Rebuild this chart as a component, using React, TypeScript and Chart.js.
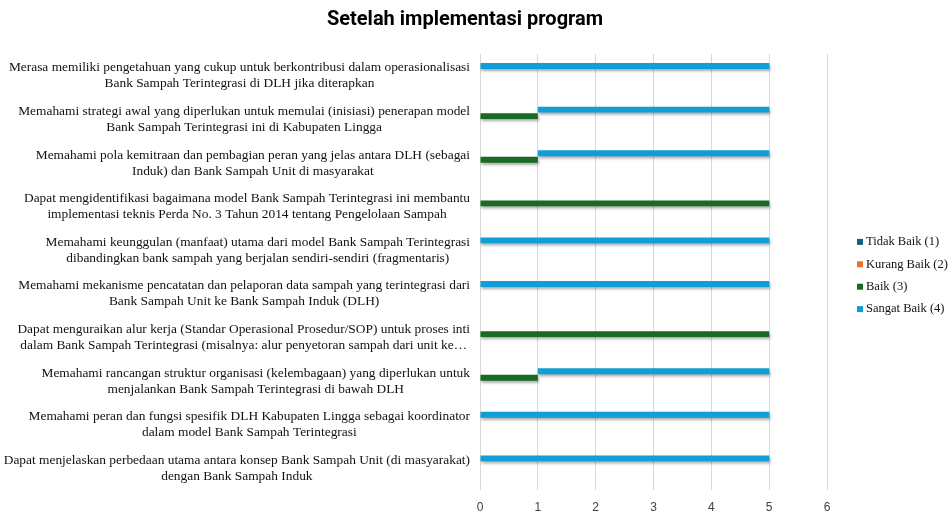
import React, { useEffect, useRef } from "react";
import { Chart, registerables } from "chart.js";

Chart.register(...registerables);

const TITLE = "Setelah implementasi program";

const CATEGORY_LINES: string[][] = [
  ["Merasa memiliki pengetahuan yang cukup untuk berkontribusi dalam operasionalisasi", "Bank Sampah Terintegrasi di DLH jika diterapkan"],
  ["Memahami strategi awal yang diperlukan untuk memulai (inisiasi) penerapan model", "Bank Sampah Terintegrasi ini di Kabupaten Lingga"],
  ["Memahami pola kemitraan dan pembagian peran yang jelas antara DLH (sebagai", "Induk) dan Bank Sampah Unit di masyarakat"],
  ["Dapat mengidentifikasi bagaimana model Bank Sampah Terintegrasi ini membantu", "implementasi teknis Perda No. 3 Tahun 2014 tentang Pengelolaan Sampah"],
  ["Memahami keunggulan (manfaat) utama dari model Bank Sampah Terintegrasi", "dibandingkan bank sampah yang berjalan sendiri-sendiri (fragmentaris)"],
  ["Memahami mekanisme pencatatan dan pelaporan data sampah yang terintegrasi dari", "Bank Sampah Unit ke Bank Sampah Induk (DLH)"],
  ["Dapat menguraikan alur kerja (Standar Operasional Prosedur/SOP) untuk proses inti", "dalam Bank Sampah Terintegrasi (misalnya: alur penyetoran sampah dari unit ke…"],
  ["Memahami rancangan struktur organisasi (kelembagaan) yang diperlukan untuk", "menjalankan Bank Sampah Terintegrasi di bawah DLH"],
  ["Memahami peran dan fungsi spesifik DLH Kabupaten Lingga sebagai koordinator", "dalam model Bank Sampah Terintegrasi"],
  ["Dapat menjelaskan perbedaan utama antara konsep Bank Sampah Unit (di masyarakat)", "dengan Bank Sampah Induk"],
];

const SERIES_NAMES = ["Tidak Baik (1)", "Kurang Baik (2)", "Baik (3)", "Sangat Baik (4)"];
const TIDAK_BAIK = [0, 0, 0, 0, 0, 0, 0, 0, 0, 0];
const KURANG_BAIK = [0, 0, 0, 0, 0, 0, 0, 0, 0, 0];
const BAIK = [0, 1, 1, 5, 0, 0, 5, 1, 0, 0];
const SANGAT_BAIK = [5, 4, 4, 0, 5, 5, 0, 4, 5, 5];
const X_MIN = 0;
const X_MAX = 6;
const X_STEP = 1;

const COLORS = ["#156082", "#E97132", "#196B24", "#0F9ED5"];

const LABEL_FONT = '13.4px "Liberation Serif"';
const LEGEND_FONT = '12.5px "Liberation Serif"';

export default function App() {
  const ref = useRef<HTMLCanvasElement | null>(null);

  useEffect(() => {
    const canvas = ref.current;
    if (!canvas) return;

    const series = [TIDAK_BAIK, KURANG_BAIK, BAIK, SANGAT_BAIK];
    // floating segments (stacked left to right in series order)
    const segments = series.map((vals, s) =>
      vals.map((v, i) => {
        let start = 0;
        for (let k = 0; k < s; k++) start += series[k][i];
        return [start, start + v] as [number, number];
      })
    );
    // slot order top to bottom: Sangat Baik, Baik, Kurang Baik, Tidak Baik
    const drawOrder = [3, 2, 1, 0];
    const datasets = drawOrder.map((s) => ({
      label: SERIES_NAMES[s],
      data: segments[s],
      backgroundColor: COLORS[s],
      borderWidth: 0,
      categoryPercentage: 0.6,
      barPercentage: 0.9,
    }));

    const shadowPlugin = {
      id: "barShadow",
      beforeDatasetsDraw(chart: any) {
        const ctx = chart.ctx;
        ctx.save();
        ctx.shadowColor = "rgba(0,0,0,0.35)";
        ctx.shadowBlur = 3;
        ctx.shadowOffsetX = 1;
        ctx.shadowOffsetY = 2;
      },
      afterDatasetsDraw(chart: any) {
        chart.ctx.restore();
      },
    };

    const textPlugin = {
      id: "texts",
      afterDraw(chart: any) {
        const ctx = chart.ctx;
        const yScale = chart.scales.y;
        const area = chart.chartArea;
        ctx.save();
        // category labels
        ctx.font = LABEL_FONT;
        ctx.fillStyle = "#111111";
        ctx.textAlign = "center";
        ctx.textBaseline = "middle";
        const lineH = 16;
        CATEGORY_LINES.forEach((lines, i) => {
          const cy = yScale.getPixelForValue(i);
          let maxW = 0;
          lines.forEach((l) => (maxW = Math.max(maxW, ctx.measureText(l).width)));
          const cx = area.left - 10 - maxW / 2;
          const y0 = cy - ((lines.length - 1) * lineH) / 2;
          lines.forEach((l, j) => ctx.fillText(l, cx, y0 + j * lineH));
        });
        // title
        ctx.font = 'bold 20px "Roboto"';
        ctx.fillStyle = "#000000";
        ctx.fillText(TITLE, 465, 20);
        // legend
        ctx.font = LEGEND_FONT;
        ctx.textAlign = "left";
        const spacing = 22.4;
        const midY = (area.top + area.bottom) / 2 + 3.5;
        const startY = midY - ((SERIES_NAMES.length - 1) * spacing) / 2;
        SERIES_NAMES.forEach((name, i) => {
          const y = startY + i * spacing;
          ctx.fillStyle = COLORS[i];
          ctx.fillRect(857, y - 3, 6, 6);
          ctx.fillStyle = "#111111";
          ctx.fillText(name, 866, y);
        });
        ctx.restore();
      },
    };

    const chart = new Chart(canvas, {
      type: "bar",
      data: {
        labels: CATEGORY_LINES.map((l) => l.join(" ")),
        datasets: datasets as any,
      },
      options: {
        indexAxis: "y",
        responsive: false,
        animation: false,
        devicePixelRatio: 1,
        layout: { padding: { left: 480, right: 124, top: 54, bottom: 0 } },
        plugins: {
          legend: { display: false },
          title: { display: false },
          tooltip: { enabled: false },
        },
        scales: {
          x: {
            min: X_MIN,
            max: X_MAX,
            grid: { color: "#d9d9d9", lineWidth: 1, drawTicks: false },
            border: { display: false },
            ticks: {
              stepSize: X_STEP,
              padding: 10,
              color: "#404040",
              font: { family: "Liberation Sans", size: 12 },
            },
            afterFit(scale: any) {
              scale.height = 24;
            },
          },
          y: {
            display: false,
            grid: { display: false },
          },
        },
      },
      plugins: [shadowPlugin, textPlugin],
    });

    return () => chart.destroy();
  }, []);

  return (
    <canvas
      ref={ref}
      width={951}
      height={514}
      style={{ position: "absolute", left: 0, top: 0, width: 951, height: 514 }}
    />
  );
}
